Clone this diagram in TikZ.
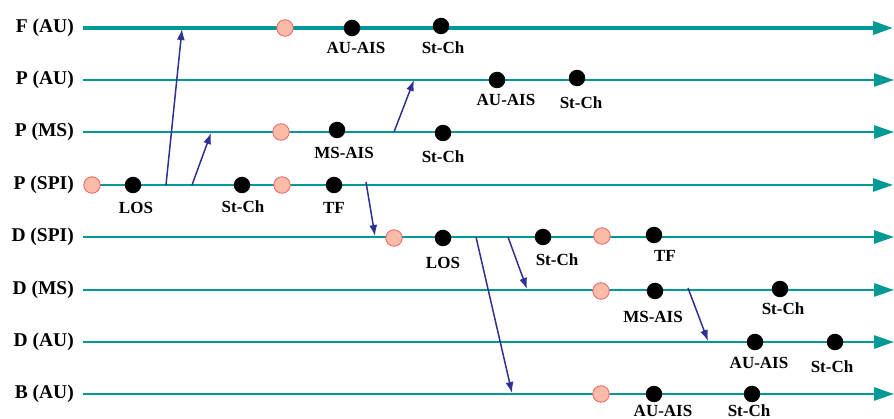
\documentclass[tikz,border=0pt]{standalone}
\usepackage{fontspec}
\setmainfont{Liberation Serif}
\usetikzlibrary{arrows.meta}
\definecolor{tealA}{RGB}{0,153,150}
\definecolor{navyA}{RGB}{46,49,146}
\definecolor{pinkfill}{RGB}{250,187,168}
\definecolor{pinkdraw}{RGB}{236,96,96}
\tikzset{
  axisline/.style={draw=tealA, line width=2.7pt, -{Triangle[length=20pt,width=13pt]}},
  rowlbl/.style={font=\fontsize{19.5}{20}\selectfont\bfseries, anchor=east, inner sep=0pt},
  ev/.style={circle, fill=black, minimum size=16.5pt, inner sep=0pt},
  stt/.style={circle, fill=pinkfill, draw=pinkdraw, line width=0.8pt, minimum size=16.5pt, inner sep=0pt},
  tag/.style={font=\fontsize{17}{18}\selectfont\bfseries, inner sep=0pt},
  link/.style={draw=navyA, line width=1.5pt, -{Latex[length=11pt,width=8pt]}},
}
\begin{document}
\begin{tikzpicture}[x=1pt,y=-1pt]
\useasboundingbox (0,0) rectangle (894,419);
% row labels
\node[rowlbl] (lF)  at (74,28)  {F (AU)};
\node[rowlbl] (lPA) at (74,80)  {P (AU)};
\node[rowlbl] (lPM) at (74,132) {P (MS)};
\node[rowlbl] (lPS) at (74,185) {P (SPI)};
\node[rowlbl] (lDS) at (74,237) {D (SPI)};
\node[rowlbl] (lDM) at (74,290) {D (MS)};
\node[rowlbl] (lDA) at (74,342) {D (AU)};
\node[rowlbl] (lB)  at (74,394) {B (AU)};
% axis end points
\coordinate (sF)  at (83,28);  \coordinate (eF)  at (893,28);
\coordinate (sPA) at (83,80);  \coordinate (ePA) at (894,80);
\coordinate (sPM) at (83,132); \coordinate (ePM) at (894,132);
\coordinate (sPS) at (92,185); \coordinate (ePS) at (893,185);
\coordinate (sDS) at (83,237); \coordinate (eDS) at (894,237);
\coordinate (sDM) at (83,290); \coordinate (eDM) at (894,290);
\coordinate (sDA) at (83,342); \coordinate (eDA) at (894,342);
\coordinate (sB)  at (83,394); \coordinate (eB)  at (894,394);
\draw[axisline, line width=3.5pt] (sF) -- (eF);
\draw[axisline] (sPA) -- (ePA);
\draw[axisline] (sPM) -- (ePM);
\draw[axisline] (sPS) -- (ePS);
\draw[axisline] (sDS) -- (eDS);
\draw[axisline] (sDM) -- (eDM);
\draw[axisline] (sDA) -- (eDA);
\draw[axisline] (sB) -- (eB);
% arrows between rows
\coordinate (a1s) at (166,185); \coordinate (a1e) at (182,29);
\coordinate (a2s) at (192,185); \coordinate (a2e) at (211,133);
\coordinate (a3s) at (394,132); \coordinate (a3e) at (414,80);
\coordinate (a4s) at (366,182); \coordinate (a4e) at (375,236);
\coordinate (a5s) at (476,237); \coordinate (a5e) at (512,393);
\coordinate (a6s) at (508,237); \coordinate (a6e) at (527,289);
\coordinate (a7s) at (688,288); \coordinate (a7e) at (708,341);
\draw[link] (a1s) -- (a1e);
\draw[link] (a2s) -- (a2e);
\draw[link] (a3s) -- (a3e);
\draw[link] (a4s) -- (a4e);
\draw[link] (a5s) -- (a5e);
\draw[link] (a6s) -- (a6e);
\draw[link] (a7s) -- (a7e);
% F (AU)
\node[stt] (f0) at (285,28) {};
\node[ev] (f1) at (352,28) {};
\node[ev] (f2) at (441,26) {};
\node[tag] (tf1) at (356,48) {AU-AIS};
\node[tag] (tf2) at (443,48) {St-Ch};
% P (AU)
\node[ev] (pa1) at (497,80) {};
\node[ev] (pa2) at (577,78) {};
\node[tag] (tpa1) at (506,100) {AU-AIS};
\node[tag] (tpa2) at (581,103) {St-Ch};
% P (MS)
\node[stt] (pm0) at (281,132) {};
\node[ev] (pm1) at (337,130) {};
\node[ev] (pm2) at (443,133) {};
\node[tag] (tpm1) at (344,153) {MS-AIS};
\node[tag] (tpm2) at (443,157) {St-Ch};
% P (SPI)
\node[stt] (ps0) at (92,185) {};
\node[ev] (ps1) at (133,185) {};
\node[ev] (ps2) at (242,185) {};
\node[stt] (ps3) at (282,185) {};
\node[ev] (ps4) at (334,185) {};
\node[tag] (tps1) at (136,208) {LOS};
\node[tag] (tps2) at (243,207) {St-Ch};
\node[tag] (tps4) at (334,208) {TF};
% D (SPI)
\node[stt] (ds0) at (394,238) {};
\node[ev] (ds1) at (443,238) {};
\node[ev] (ds2) at (543,237) {};
\node[stt] (ds3) at (602,236) {};
\node[ev] (ds4) at (654,235) {};
\node[tag] (tds1) at (443,263) {LOS};
\node[tag] (tds2) at (557,260) {St-Ch};
\node[tag] (tds4) at (665,256) {TF};
% D (MS)
\node[stt] (dm0) at (601,291) {};
\node[ev] (dm1) at (655,291) {};
\node[ev] (dm2) at (780,289) {};
\node[tag] (tdm1) at (653,317) {MS-AIS};
\node[tag] (tdm2) at (783,309) {St-Ch};
% D (AU)
\node[ev] (da1) at (755,342) {};
\node[ev] (da2) at (835,342) {};
\node[tag] (tda1) at (759,363) {AU-AIS};
\node[tag] (tda2) at (832,367) {St-Ch};
% B (AU)
\node[stt] (b0) at (601,394) {};
\node[ev] (b1) at (654,394) {};
\node[ev] (b2) at (752,394) {};
\node[tag] (tb1) at (663,411) {AU-AIS};
\node[tag] (tb2) at (749,411) {St-Ch};
\end{tikzpicture}
\end{document}
